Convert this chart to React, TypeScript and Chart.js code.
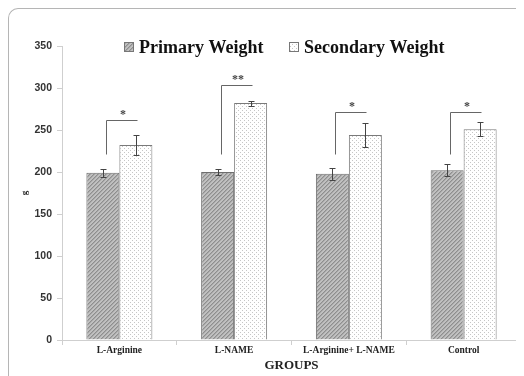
import React, { useEffect, useRef } from "react";
import { Chart, registerables } from "chart.js";

Chart.register(...registerables);

const categories = ["L-Arginine", "L-NAME", "L-Arginine+ L-NAME", "Control"];
const primaryWeight = [199, 200, 198, 202];
const primaryErr = [4.5, 4, 7, 7];
const secondaryWeight = [232, 282, 244, 251];
const secondaryErr = [11.5, 3, 14, 8.5];
const bracketLow = [221, 221, 222, 222];
const bracketHigh = [262, 303, 272, 272];
const significance = ["*", "**", "*", "*"];
const yTicks = [0, 50, 100, 150, 200, 250, 300, 350];

function makePrimaryPattern(): CanvasPattern | string {
  const c = document.createElement("canvas");
  c.width = 4;
  c.height = 4;
  const g = c.getContext("2d");
  if (!g) return "#aaa";
  g.fillStyle = "#c0c0c0";
  g.fillRect(0, 0, 4, 4);
  g.fillStyle = "#8e8e8e";
  for (let i = 0; i < 4; i++) {
    g.fillRect(i, 3 - i, 1, 1);
  }
  g.fillStyle = "#a8a8a8";
  for (let i = 0; i < 4; i++) {
    g.fillRect((i + 1) % 4, 3 - i, 1, 1);
  }
  return g.createPattern(c, "repeat") || "#aaa";
}

function makeSecondaryPattern(): CanvasPattern | string {
  const c = document.createElement("canvas");
  c.width = 4;
  c.height = 4;
  const g = c.getContext("2d");
  if (!g) return "#f4f4f4";
  g.fillStyle = "#ffffff";
  g.fillRect(0, 0, 4, 4);
  g.fillStyle = "#c6c6c6";
  g.fillRect(0, 0, 1, 1);
  g.fillRect(2, 2, 1, 1);
  return g.createPattern(c, "repeat") || "#f4f4f4";
}

export default function App() {
  const ref = useRef<HTMLCanvasElement | null>(null);

  useEffect(() => {
    if (!ref.current) return;
    const pPat = makePrimaryPattern();
    const sPat = makeSecondaryPattern();

    const overlay = {
      id: "overlay",
      afterDatasetsDraw(chart: any) {
        const ctx = chart.ctx;
        const y = chart.scales.y;
        const m0 = chart.getDatasetMeta(0);
        const m1 = chart.getDatasetMeta(1);
        ctx.save();
        // error bars
        ctx.strokeStyle = "#444";
        ctx.lineWidth = 1;
        const drawErr = (meta: any, vals: number[], errs: number[]) => {
          meta.data.forEach((bar: any, i: number) => {
            const x = Math.round(bar.x) + 0.5;
            const yt = Math.round(y.getPixelForValue(vals[i] + errs[i])) + 0.5;
            const yb = Math.round(y.getPixelForValue(vals[i] - errs[i])) + 0.5;
            ctx.beginPath();
            ctx.moveTo(x, yt);
            ctx.lineTo(x, yb);
            ctx.moveTo(x - 3, yt);
            ctx.lineTo(x + 3, yt);
            ctx.moveTo(x - 3, yb);
            ctx.lineTo(x + 3, yb);
            ctx.stroke();
          });
        };
        drawErr(m0, primaryWeight, primaryErr);
        drawErr(m1, secondaryWeight, secondaryErr);
        // brackets
        ctx.strokeStyle = "#666";
        ctx.fillStyle = "#444";
        ctx.font = "bold 12px 'Liberation Serif', serif";
        ctx.textAlign = "center";
        ctx.textBaseline = "middle";
        categories.forEach((_, i) => {
          const x1 = Math.round(m0.data[i].x + 3) + 0.5;
          const x2 = Math.round(m1.data[i].x + 1) + 0.5;
          const yl = Math.round(y.getPixelForValue(bracketLow[i])) + 0.5;
          const yh = Math.round(y.getPixelForValue(bracketHigh[i])) + 0.5;
          ctx.beginPath();
          ctx.moveTo(x1, yl);
          ctx.lineTo(x1, yh);
          ctx.lineTo(x2, yh);
          ctx.stroke();
          ctx.fillText(significance[i], (x1 + x2) / 2 + 1, yh - 6);
        });
        // legend
        ctx.textAlign = "left";
        ctx.font = "bold 18px 'Liberation Serif', serif";
        ctx.fillStyle = "#111";
        const items = [
          { label: "Primary Weight", fill: pPat, x: 116 },
          { label: "Secondary Weight", fill: sPat, x: 281 },
        ];
        const ly = 39;
        items.forEach((it) => {
          ctx.fillStyle = it.fill;
          ctx.fillRect(it.x, ly - 4.5, 9, 9);
          ctx.strokeStyle = "#777";
          ctx.strokeRect(it.x + 0.5, ly - 4.5, 9, 9);
          ctx.fillStyle = "#111";
          ctx.fillText(it.label, it.x + 15, ly + 1);
        });
        ctx.restore();
      },
    };

    const chart = new Chart(ref.current, {
      type: "bar",
      data: {
        labels: categories,
        datasets: [
          {
            label: "Primary Weight",
            data: primaryWeight,
            backgroundColor: pPat as any,
            borderColor: "#6e6e6e",
            borderWidth: 1,
            categoryPercentage: 0.575,
            barPercentage: 1,
          },
          {
            label: "Secondary Weight",
            data: secondaryWeight,
            backgroundColor: sPat as any,
            borderColor: "#7a7a7a",
            borderWidth: 1,
            categoryPercentage: 0.575,
            barPercentage: 1,
          },
        ],
      },
      options: {
        responsive: false,
        animation: false,
        layout: { padding: { top: 38, right: 3, left: 0, bottom: 0 } },
        plugins: {
          legend: { display: false },
          tooltip: { enabled: false },
        },
        scales: {
          x: {
            afterFit: (s: any) => {
              s.height = 36;
            },
            grid: {
              drawOnChartArea: false,
              drawTicks: true,
              tickLength: 5,
              color: "#cfcfcf",
              offset: true,
            },
            border: { color: "#cfcfcf", width: 1 },
            ticks: {
              color: "#222",
              padding: 0,
              maxRotation: 0,
              autoSkip: false,
              font: { family: "'Liberation Serif', serif", size: 9.5, weight: "bold" },
            },
            title: {
              display: true,
              text: "GROUPS",
              color: "#222",
              padding: { top: 0, bottom: 3 },
              font: { family: "'Liberation Serif', serif", size: 13, weight: "bold" },
            },
          },
          y: {
            min: 0,
            max: 350,
            afterFit: (s: any) => {
              s.width = 54;
            },
            afterBuildTicks: (s: any) => {
              s.ticks = yTicks.map((v) => ({ value: v }));
            },
            grid: {
              drawOnChartArea: false,
              drawTicks: true,
              tickLength: 5,
              color: "#cfcfcf",
            },
            border: { color: "#cfcfcf", width: 1 },
            ticks: {
              color: "#333",
              padding: 5,
              font: { family: "'Liberation Sans', sans-serif", size: 10.5, weight: "bold" },
            },
            title: {
              display: true,
              text: "g",
              color: "#222",
              padding: { top: 11, bottom: 0 },
              font: { family: "'Liberation Serif', serif", size: 9, weight: "bold" },
            },
          },
        },
      },
      plugins: [overlay],
    });
    return () => chart.destroy();
  }, []);

  return (
    <div style={{ position: "relative", width: 516, height: 368 }}>
      <div
        style={{
          position: "absolute",
          left: 0,
          top: 0,
          width: 530,
          height: 380,
          borderLeft: "1.5px solid #b5b5b5",
          borderTop: "1.5px solid #b5b5b5",
          borderTopLeftRadius: 10,
          boxSizing: "border-box",
        }}
      />
      <canvas
        ref={ref}
        width={516}
        height={368}
        style={{ position: "absolute", left: 0, top: 0, width: 516, height: 368 }}
      />
    </div>
  );
}
